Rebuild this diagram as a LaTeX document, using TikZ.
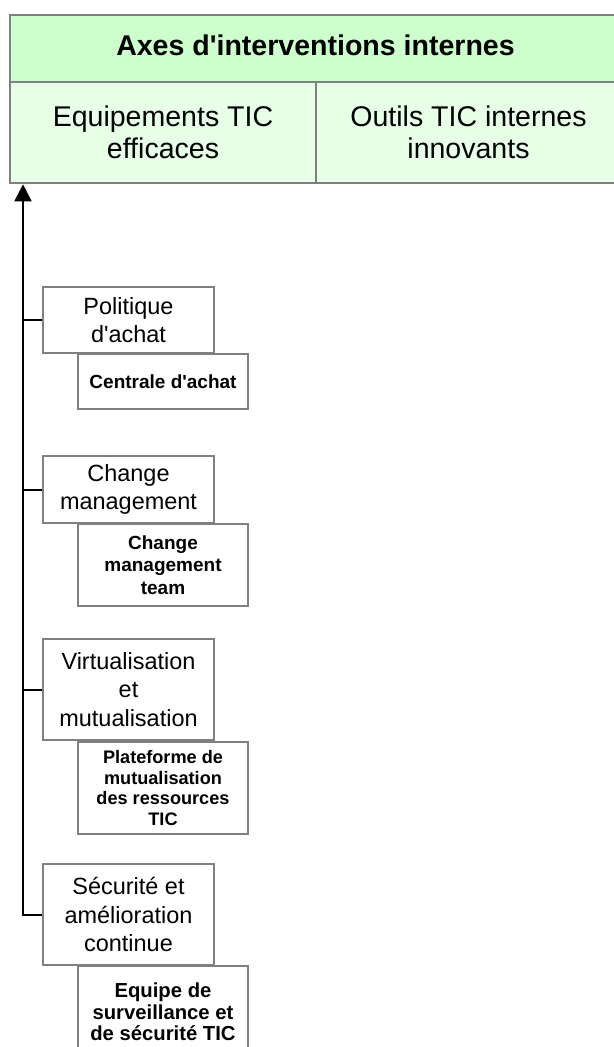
\documentclass[tikz,border=0pt]{standalone}
\usepackage{fontspec}
\setmainfont{Liberation Sans}[Ligatures=TeXOff]
\usetikzlibrary{arrows.meta}
\definecolor{headgreen}{RGB}{204,255,204}
\definecolor{rowgreen}{RGB}{230,255,230}
\definecolor{framegray}{RGB}{128,128,128}

\begin{document}
\begin{tikzpicture}[x=0.75pt,y=-0.75pt,
  cell/.style={draw=framegray, line width=1.5pt, inner sep=0pt, align=center},
  headcell/.style={cell, fill=headgreen},
  rowcell/.style={cell, fill=rowgreen, minimum height=76.2pt,
    font=\fontsize{21.4}{24}\selectfont},
  topic/.style={cell, fill=white, minimum width=128.25pt,
    font=\fontsize{17.6}{21.4}\selectfont},
  action/.style={cell, fill=white, minimum width=127.5pt},
  link/.style={line width=1.5pt, black}]

\useasboundingbox (0,0) rectangle (614,1047);
\clip (0,0) rectangle (614,1047);

% header table
\node[headcell, minimum width=458.25pt, minimum height=50.25pt,
      text depth=3.9pt, font=\bfseries\fontsize{21.4}{24}\selectfont]
  (head) at (315.5,48.2) {Axes d'interventions internes};
\node[rowcell, minimum width=229.5pt] (col1) at (163,132.5)
  {Equipements TIC\\efficaces};
\node[rowcell, minimum width=228.75pt] (col2) at (468.5,132.5)
  {Outils TIC internes\\innovants};

% intervention themes
\node[topic, minimum height=49.5pt]  (b1) at (128.5,320)   {Politique\\d'achat};
\node[action, minimum height=41.25pt, font=\bfseries\fontsize{14.25}{16.9}\selectfont]
  (c1) at (163,381.5) {Centrale d'achat};

\node[topic, minimum height=50.25pt] (b2) at (128.5,489.5) {Change\\management};
\node[action, minimum height=61.5pt, font=\bfseries\fontsize{14.25}{16.9}\selectfont]
  (c2) at (163,565) {Change\\management\\team};

\node[topic, minimum height=75.75pt] (b3) at (128.5,689.5) {Virtualisation\\et\\mutualisation};
\node[action, minimum height=69pt, font=\bfseries\fontsize{13.6}{15.4}\selectfont]
  (c3) at (163,788) {Plateforme de\\mutualisation\\des ressources\\TIC};

\node[topic, minimum height=75.75pt] (b4) at (128.5,914.5) {Sécurité et\\amélioration\\continue};
\node[action, minimum height=69pt, font=\bfseries\fontsize{15.2}{16.1}\selectfont]
  (c4) at (163,1012) {Equipe de\\surveillance et\\de sécurité TIC};

% spine with arrow up to the table
\coordinate (spine) at (23,0);
\draw[link, -{Triangle[length=12.75pt,width=12.75pt]}]
  (b4.west) -- (b4.west -| spine) -- (spine |- col1.south);
\foreach \b in {b1,b2,b3}
  \draw[link] (\b.west) -- (\b.west -| spine);
\end{tikzpicture}
\end{document}
